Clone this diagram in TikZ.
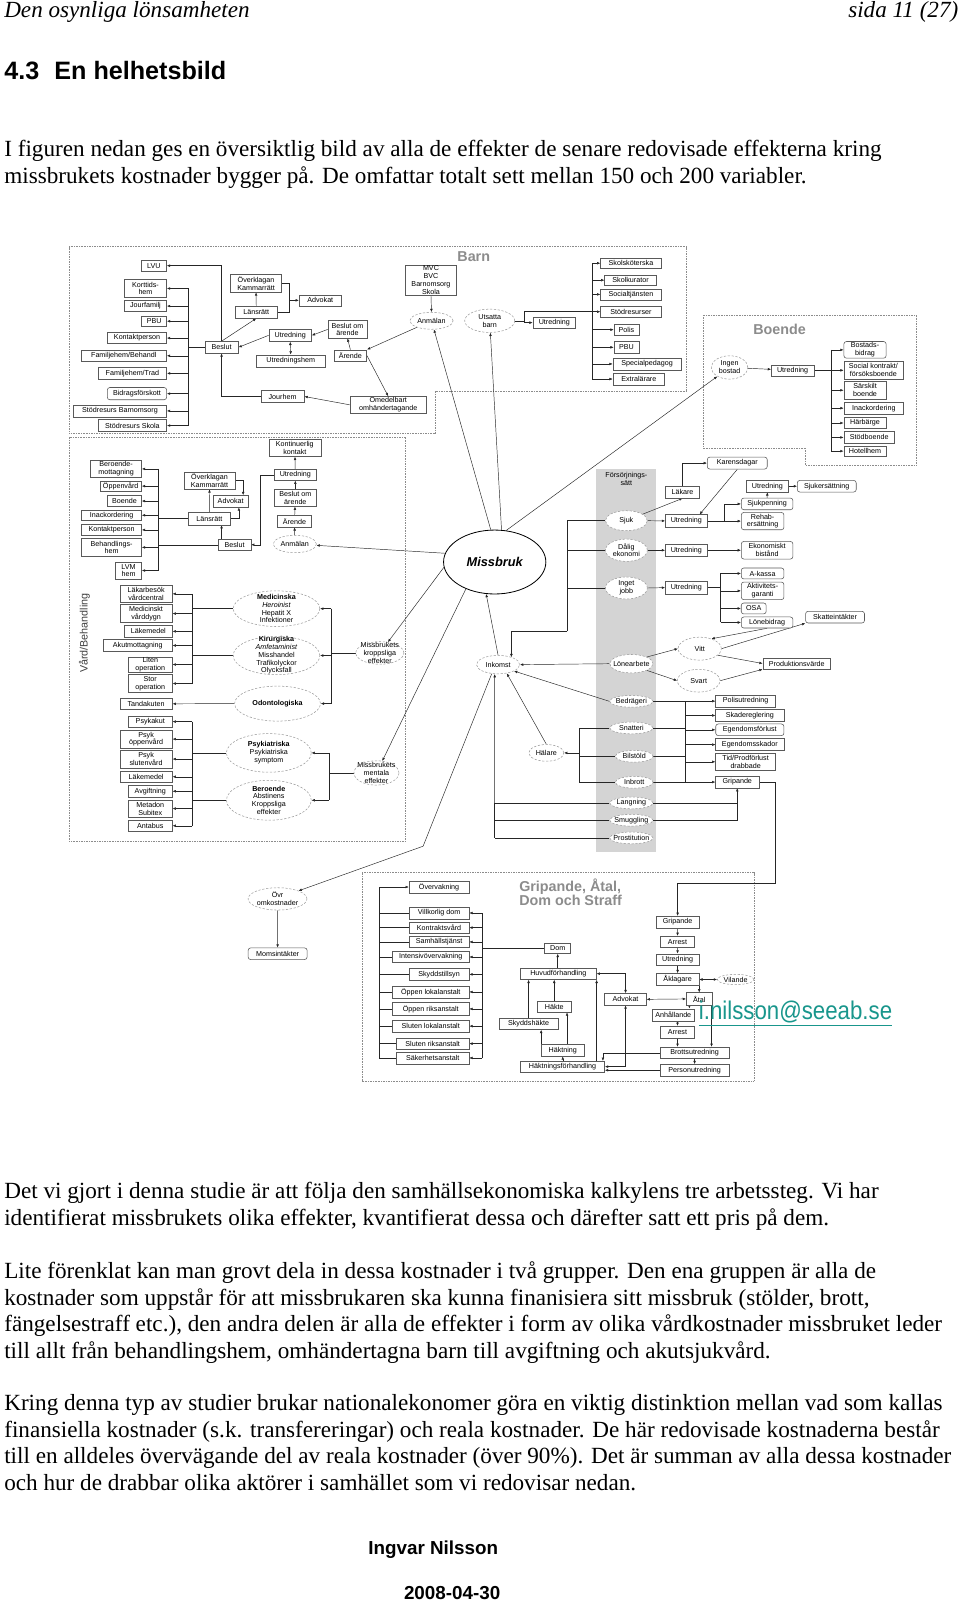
\documentclass[tikz,border=0pt]{standalone}
\usepackage{fontspec}
\setmainfont{Liberation Serif}
\newfontfamily\arialf{Liberation Sans}
\newfontfamily\narrowf[FakeStretch=0.87]{Liberation Sans}
\usetikzlibrary{arrows.meta,shapes.geometric}
\pgfdeclarelayer{bg}
\pgfsetlayers{bg,main}
\definecolor{emailc}{RGB}{25,150,140}
\newcommand\dg{\arialf\fontsize{7}{7.6}\selectfont}
\tikzset{
  bx/.style={draw=black!65, line width=0.55pt, fill=white, inner sep=0.5pt, align=center, font=\dg},
  rbx/.style={bx, rounded corners=2.5pt},
  el/.style={ellipse, draw=black!40, line width=0.5pt, dash pattern=on 2.2pt off 1.6pt, fill=white, inner sep=0pt},
  txt/.style={font=\dg, align=center, inner sep=0pt},
  ln/.style={draw=black!85, line width=0.45pt},
  ar/.style={ln, -{Latex[length=3.2pt,width=2.6pt]}},
  dar/.style={ln, {Latex[length=3.2pt,width=2.6pt]}-{Latex[length=3.2pt,width=2.6pt]}},
  region/.style={draw=black!45, line width=0.5pt, dash pattern=on 0.8pt off 0.8pt},
  body/.style={anchor=base west, inner sep=0pt, font=\fontsize{22.65}{26}\selectfont},
  lbl/.style={font=\arialf\bfseries\fontsize{14}{13}\selectfont, text=black!45, inner sep=0pt},
}
\newcommand\B[7][bx]{\node[#1,minimum width=#5pt,minimum height=#6pt] (#2) at (#3,#4) {#7};}
\newcommand\E[6]{\node[el,minimum width=#4pt,minimum height=#5pt] (#1) at (#2,#3) {};\node[txt] (#1t) at (#1.center) {#6};}
\begin{document}
\begin{tikzpicture}[x=1pt,y=-1pt]
\useasboundingbox (0,0) rectangle (938,1568);

% ---------- page text ----------
\node[anchor=base west, inner sep=0pt, font=\fontsize{22.6}{26}\selectfont\itshape] (hd1) at (4,17) {Den osynliga lönsamheten};
\node[anchor=base east, inner sep=0pt, font=\fontsize{22.6}{26}\selectfont\itshape] (hd2) at (937,17) {sida 11 (27)};
\node[anchor=base west, inner sep=0pt, font=\arialf\bfseries\fontsize{24.6}{28}\selectfont] (sec) at (4,78) {4.3\hspace{0.6em}En helhetsbild};
\node[body] (p1) at (4,153) {I figuren nedan ges en översiktlig bild av alla de effekter de senare redovisade effekterna kring};
\node[body] (p2) at (4,179) {missbrukets kostnader bygger på. De omfattar totalt sett mellan 150 och 200 variabler.};
\node[body] (q1) at (4,1172) {Det vi gjort i denna studie är att följa den samhällsekonomiska kalkylens tre arbetssteg. Vi har};
\node[body] (q2) at (4,1198) {identifierat missbrukets olika effekter, kvantifierat dessa och därefter satt ett pris på dem.};
\node[body] (q3) at (4,1250) {Lite förenklat kan man grovt dela in dessa kostnader i två grupper. Den ena gruppen är alla de};
\node[body] (q4) at (4,1276) {kostnader som uppstår för att missbrukaren ska kunna finanisiera sitt missbruk (stölder, brott,};
\node[body] (q5) at (4,1302) {fängelsestraff etc.), den andra delen är alla de effekter i form av olika vårdkostnader missbruket leder};
\node[body] (q6) at (4,1328) {till allt från behandlingshem, omhändertagna barn till avgiftning och akutsjukvård.};
\node[body] (q7) at (4,1379) {Kring denna typ av studier brukar nationalekonomer göra en viktig distinktion mellan vad som kallas};
\node[body] (q8) at (4,1405) {finansiella kostnader (s.k. transfereringar) och reala kostnader. De här redovisade kostnaderna består};
\node[body] (q9) at (4,1431) {till en alldeles övervägande del av reala kostnader (över 90\%). Det är summan av alla dessa kostnader};
\node[body] (q10) at (4,1457) {och hur de drabbar olika aktörer i samhället som vi redovisar nedan.};
\node[anchor=base, inner sep=0pt, font=\arialf\bfseries\fontsize{18.4}{22}\selectfont] (ft1) at (423.5,1520) {Ingvar Nilsson};
\node[anchor=base, inner sep=0pt, font=\arialf\bfseries\fontsize{18.4}{22}\selectfont] (ft2) at (442,1564) {2008-04-30};

% ---------- labels ----------
\node[lbl] (barnlbl) at (463.1,250.8) {Barn};
\node[lbl] (boendelbl) at (762.1,322.4) {Boende};
\node[lbl, align=left, anchor=north west] (griplbl) at (507.4,859) {Gripande, Åtal,\\Dom och Straff};
\node[rotate=90, inner sep=0pt, font=\arialf\fontsize{10.5}{12}\selectfont, text=black!75] (vardlbl) at (82.5,619) {Vård/Behandling};

% ---------- Barn ----------
\B{lvu}{150.3}{259.7}{25}{11.4}{LVU}
\B{kort}{142.2}{282}{41.4}{17}{Korttids-\\hem}
\B{jour}{142.2}{299.2}{41.4}{10.7}{Jourfamilj}
\B{pbu1}{150.7}{314}{24.5}{10.5}{PBU}
\B{kontakt1}{134}{330.5}{57.7}{11}{Kontaktperson}
\B{famb}{121}{347.8}{83.8}{11.7}{Familjehem/Behandl}
\B{famt}{129.5}{365}{66.9}{11.4}{Familjehem/Trad}
\B[rbx]{bidrag}{133.9}{384.8}{58}{12}{Bidragsförskott}
\B{stodb}{117.3}{401.7}{91.2}{12}{Stödresurs Barnomsorg}
\B{stods}{129.5}{416}{66.9}{11.4}{Stödresurs Skola}
\B{beslut1}{216.6}{339.5}{32.6}{11.4}{Beslut}
\B{lans1}{250.5}{305.3}{41.7}{11.4}{Länsrätt}
\B{overk1}{250.3}{276.8}{49.8}{17.6}{Överklagan\\Kammarrätt}
\B{adv1}{313.1}{293.6}{41.3}{10.8}{Advokat}
\B{utr1}{283.7}{327.8}{41.7}{12}{Utredning}
\B{utrh}{284.2}{352.9}{66.7}{12.1}{Utredningshem}
\B{beslutom1}{339.7}{322}{38}{17}{Beslut om\\ärende}
\B{arende1}{342.5}{347.7}{32}{11.4}{Ärende}
\B{jourhem}{276.2}{387.6}{42.3}{11.7}{Jourhem}
\B{omed}{379.5}{395.7}{75}{16.2}{Omedelbart\\omhändertagande}
\B{mvc}{421.3}{273.9}{49.8}{28.6}{MVC\\BVC\\Barnomsorg\\Skola}
\E{anm1}{421.8}{313.6}{42.3}{16.6}{Anmälan}
\E{utsatta}{478.7}{313.6}{48.9}{22.8}{Utsatta\\barn}
\B{utr2}{541.9}{315.4}{41.8}{10.8}{Utredning}
\B{skolsk}{616.8}{257.3}{59.3}{9.8}{Skolsköterska}
\B{skolkur}{616.4}{273.9}{50.5}{10.4}{Skolkurator}
\B{soc}{616.8}{287.8}{59.3}{10.7}{Socialtjänsten}
\B{stodr}{616.8}{304.7}{59.3}{11.4}{Stödresurser}
\B{polis}{612.4}{322.3}{24.4}{11.4}{Polis}
\B{pbu2}{612.4}{339.5}{24.4}{11.4}{PBU}
\B{spec}{632.6}{355.8}{66.8}{11.4}{Specialpedagog}
\B{extra}{624.5}{370.5}{50.5}{11.5}{Extralärare}

% ---------- Boende ----------
\E{ingen}{713.2}{359.2}{35.8}{22.8}{Ingen\\bostad}
\B{utr3}{774.8}{362}{41.6}{10.8}{Utredning}
\B[rbx]{bostb}{845.6}{342}{41.3}{16.3}{Bostads-\\bidrag}
\B{socialk}{853.8}{362}{57.6}{17.2}{Social kontrakt/\\försöksboende}
\B{sarsk}{845.6}{381.5}{41.3}{17.2}{Särskilt\\boende}
\B{inack1}{854.2}{399}{58.3}{11.1}{Inackordering}
\B{harb}{845.6}{413.5}{41.3}{10.7}{Härbärge}
\B{stodbo}{849.7}{427.6}{49.5}{11.2}{Stödboende}
\B{hotell}{845.6}{441}{41.3}{10.4}{Hotellhem}

% ---------- Vård top ----------
\B{kontin}{288.2}{437.7}{50.8}{17}{Kontinuerlig\\kontakt}
\B{berm}{113.5}{458.4}{49.8}{16.6}{Beroende-\\mottagning}
\B{oppen}{118}{475.2}{40.7}{10.4}{Öppenvård}
\B{boende2}{121.6}{489.8}{33.5}{10.4}{Boende}
\B{inack2}{109.1}{503.7}{58.6}{10.7}{Inackordering}
\B{kontakt2}{109.1}{518}{58.6}{11.4}{Kontaktperson}
\B{behhem}{109.1}{535.1}{58.6}{17.6}{Behandlings-\\hem}
\B{lvm}{125.7}{557.7}{25.4}{16.6}{LVM\\hem}
\B{overk2}{204.8}{469.8}{49.5}{16.6}{Överklagan\\Kammarrätt}
\B{adv2}{225.5}{490}{34.2}{11.4}{Advokat}
\B{lans2}{204.7}{507}{41.4}{12.1}{Länsrätt}
\B{beslut2}{229.3}{532.5}{31.9}{11}{Beslut}
\B{utr4}{288.7}{464.1}{41.4}{11}{Utredning}
\B{beslutom2}{288.7}{486.5}{41.4}{16.9}{Beslut om\\ärende}
\B{arende2}{287.9}{509.5}{33.2}{11.4}{Ärende}
\E{anm2}{288.2}{531.8}{42.3}{17}{Anmälan}

% ---------- Vård medical ----------
\B{lakb}{142.8}{580.5}{51.2}{16.6}{Läkarbesök\\vårdcentral}
\B{medv}{142.8}{599.8}{51.2}{17.3}{Medicinskt\\vårddygn}
\B{lakm1}{145}{617.2}{46.9}{11.1}{Läkemedel}
\B{akut}{134.7}{631}{67.4}{11.4}{Akutmottagning}
\B{liten}{146.9}{649.6}{43}{14.7}{Liten\\operation}
\B{stor}{146.9}{668.2}{43}{17.3}{Stor\\operation}
\B{tand}{142.8}{688}{51.2}{11.4}{Tandakuten}
\B{psykakut}{146.9}{705.4}{43}{10.4}{Psykakut}
\B{psyko}{142.8}{722.5}{51.2}{17.3}{Psyk\\öppenvård}
\B{psyks}{142.8}{742}{51.2}{17.3}{Psyk\\slutenvård}
\B{lakm2}{142.8}{759.3}{51.2}{10.7}{Läkemedel}
\B{avg}{146.9}{773.5}{43}{11}{Avgiftning}
\B{metad}{146.9}{790.4}{43}{16.3}{Metadon\\Subitex}
\B{antab}{146.9}{807.2}{43}{10.8}{Antabus}
\E{medic}{270.3}{595}{84.7}{34.9}{\textbf{Medicinska}\\\textit{Heroinist}\\Hepatit X\\Infektioner}
\E{kirur}{270.3}{640.8}{84.7}{37.5}{\textbf{Kirurgiska}\\\textit{Amfetaminist}\\Misshandel\\Trafikolyckor\\Olycksfall}
\E{odont}{271.3}{687.8}{84}{34.2}{\textbf{Odontologiska}}
\E{psykia}{262.8}{736}{83}{37.8}{\textbf{Psykiatriska}\\Psykiatriska\\symptom}
\E{beroende}{262.8}{782.3}{83}{39}{\textbf{Beroende}\\Abstinens\\Kroppsliga\\effekter}
\E{kropp}{371.3}{638.3}{47}{22}{Missbrukets\\kroppsliga\\effekter}
\E{mental}{368}{755.6}{44}{23.8}{Missbrukets\\mentala\\effekter}

% ---------- Missbruk ----------
\node[ellipse, draw=black, line width=0.8pt, fill=white, minimum width=100pt, minimum height=62.5pt, inner sep=0pt] (missbruk) at (483.6,549.4) {};
\node[inner sep=0pt, font=\arialf\bfseries\itshape\fontsize{12.5}{14}\selectfont] (missbrukt) at (missbruk.center) {Missbruk};

% ---------- Försörjning ----------
\node[txt] (fors) at (612.3,468.3) {Försörjnings-\\sätt};
\E{sjuk}{612.3}{509}{41}{19.5}{Sjuk}
\E{dalig}{612.3}{537.9}{41}{21.8}{Dålig\\ekonomi}
\E{inget}{612.3}{574.8}{41}{21.5}{Inget\\jobb}
\E{lonea}{617.2}{648.8}{42.3}{18}{Lönearbete}
\E{bedr}{617.2}{685.6}{42.3}{11.5}{Bedrägeri}
\E{snatt}{617.2}{711.6}{42.3}{11.5}{Snatteri}
\E{bilst}{620}{739.3}{37}{11.5}{Bilstöld}
\E{inbr}{620}{764.7}{37}{11.5}{Inbrott}
\E{lang}{617.2}{784.9}{42.3}{11.5}{Langning}
\E{smug}{617.2}{801.8}{42.3}{11.5}{Smuggling}
\E{prost}{617.2}{819.1}{42.3}{11.5}{Prostitution}
\E{inkomst}{486.9}{649.7}{42.3}{18}{Inkomst}
\E{halare}{534.1}{736}{34.2}{16.3}{Hälare}
\E{vitt}{684}{634.1}{42.3}{22.5}{Vitt}
\E{svart}{683}{665.4}{41.7}{22.2}{Svart}
\B{lakare}{667.2}{481.2}{33.5}{11.4}{Läkare}
\B[rbx]{karens}{720.7}{452.7}{58.6}{11.7}{Karensdagar}
\B{utr5}{670.9}{509.2}{41}{12}{Utredning}
\B[rbx]{sjukp}{749.9}{492.6}{50.5}{11.4}{Sjukpenning}
\B[rbx]{rehab}{745.5}{509.4}{41.7}{16.9}{Rehab-\\ersättning}
\B{utr6}{750.2}{475.3}{41.4}{11.4}{Utredning}
\B[rbx]{sjukers}{808.2}{475.3}{57.6}{11.4}{Sjukersättning}
\B{utr7}{670.9}{537.9}{41}{12.1}{Utredning}
\B[rbx]{ekon}{749.9}{537.9}{50.5}{17.2}{Ekonomiskt\\bistånd}
\B{utr8}{670.9}{574.4}{41}{12.1}{Utredning}
\B[rbx]{akassa}{745.5}{560.6}{41.7}{10.7}{A-kassa}
\B[rbx]{aktiv}{745.5}{577.6}{41.7}{17.2}{Aktivitets-\\garanti}
\B[rbx]{osa}{736.8}{594.8}{24.4}{10.7}{OSA}
\B[rbx]{lonebid}{749.9}{608.5}{50.5}{10.8}{Lönebidrag}
\B[rbx]{skatt}{816.3}{603.3}{57.6}{11.4}{Skatteintäkter}
\B{prod}{778.9}{648.6}{66.2}{10.8}{Produktionsvärde}
\B{polisutr}{728.9}{685.4}{58.6}{11.4}{Polisutredning}
\B{skadereg}{733}{699.4}{66.7}{11.4}{Skadereglering}
\B[rbx]{egenf}{733}{713.4}{66.7}{11.4}{Egendomsförlust}
\B{egens}{733}{727.9}{66.7}{11.8}{Egendomsskador}
\B{tid}{728.9}{744.7}{58.6}{17.3}{Tid/Prodförlust\\drabbade}
\B{grip1}{720.7}{764.5}{42.3}{11.4}{Gripande}

% ---------- Gripande, Åtal, Dom och Straff ----------
\E{ovr}{271.3}{878.7}{57.6}{21.8}{Övr\\omkostnader}
\B[rbx]{moms}{271.4}{932.3}{57.7}{11.4}{Momsintäkter}
\B{overv}{429.2}{867.1}{58.6}{11.4}{Övervakning}
\B{villk}{429.2}{892.5}{58.6}{11.4}{Villkorlig dom}
\B{kontr}{429.2}{906.8}{58.6}{11.4}{Kontraktsvård}
\B{samh}{429.2}{920.8}{58.6}{11.3}{Samhällstjänst}
\B{intens}{421.1}{935.5}{74.8}{11.3}{Intensivövervakning}
\B{skydd}{429.2}{952.5}{58.6}{11.4}{Skyddstillsyn}
\B{opl}{421.1}{969.7}{74.8}{11.4}{Öppen lokalanstalt}
\B{opr}{421.1}{986.3}{74.8}{12.1}{Öppen riksanstalt}
\B{sll}{421.1}{1003.1}{74.8}{11.8}{Sluten lokalanstalt}
\B{slr}{423}{1020.2}{70.9}{11.4}{Sluten riksanstalt}
\B{sak}{423}{1034.2}{70.9}{11.4}{Säkerhetsanstalt}
\B{dom}{545.2}{926.9}{25.4}{10.4}{Dom}
\B{huvud}{545.8}{951.8}{74.3}{11.4}{Huvudförhandling}
\B{hakte}{541.8}{984}{33.6}{10.7}{Häkte}
\B{skyddh}{516.7}{1000.7}{57.7}{11.4}{Skyddshäkte}
\B{haktn}{550.1}{1026.7}{41.6}{11.4}{Häktning}
\B{haktf}{549.9}{1042.7}{82.4}{10.7}{Häktningsförhandling}
\B{adv3}{611.5}{976.9}{40.7}{11.4}{Advokat}
\B{grip2}{662.4}{901.3}{41.7}{11.4}{Gripande}
\B{arrest1}{662.3}{920.8}{33.5}{11.3}{Arrest}
\B{utr9}{662.4}{938.1}{41.7}{11.4}{Utredning}
\B{akl}{662.4}{957.5}{41.7}{11.8}{Åklagare}
\E{vilande}{719.1}{957.5}{35.8}{10}{Vilande}
\B{atal}{683.6}{976.5}{25.4}{12.1}{Åtal}
\B{anh}{658.2}{992.2}{41.7}{12.1}{Anhållande}
\B{arrest2}{662.3}{1008.8}{33.5}{11.4}{Arrest}
\B{brott}{679}{1029.3}{67.1}{11.4}{Brottsutredning}
\B{person}{679}{1046.2}{67.1}{11.4}{Personutredning}

\node[anchor=base west, inner sep=0pt, text=emailc, font=\narrowf\fontsize{25}{28}\selectfont] (email) at (683,997) {\underline{i.nilsson@seeab.se}};

% ================= connectors (background) =================
\begin{pgfonlayer}{bg}
\fill[white] (0,0) rectangle (938,1568);
\draw[region] (67.5,241) -- (671,241) -- (671,382) -- (425,382) -- (425,424) -- (67.5,424) -- cycle;
\draw[region] (687,308) -- (895.6,308) -- (895.6,455) -- (787.5,455) -- (787.5,438) -- (687,438) -- cycle;
\draw[region] (67.5,427) rectangle (396.4,822);
\draw[region] (353.9,853) rectangle (736.9,1056.8);
\fill[black!17] (583,458) rectangle (641.6,833);

% Barn
\coordinate (tb) at (184,0);
\draw[ln] (kort.east -| tb) -- (stods.east -| tb);
\foreach \n in {kort,jour,pbu1,kontakt1,famb,famt,bidrag,stodb,stods} \draw[ar] (\n.east -| tb) -- (\n.east);
\draw[ln, line width=0.8pt] (beslut1.west) -- (beslut1.west -| tb);
\draw[ar] (beslut1.north) |- (lvu.east);
\draw[ar] (beslut1.north) -- (lans1.south);
\draw[ar] (lans1.north) -- (overk1.south);
\coordinate (kb) at (282.7,0);
\draw[ln] (overk1.east) -| (lans1.east -| kb) -- (lans1.east);
\draw[ar] (adv1.west -| kb) -- (adv1.west);
\draw[ar] (utr1.west) -- (beslut1.east);
\draw[dar] (utr1.south) -- (utrh.north);
\draw[ar] (beslutom1.west) -- (utr1.east);
\draw[ar] (arende1.north) -- (beslutom1.south);
\draw[ar] (anm1) -- (arende1.north east);
\draw[ar] (arende1.east) -- (omed.north);
\draw[ar] (omed.west) -- (jourhem.east);
\draw[ar] (jourhem.west) -| (beslut1.south);
\draw[ar] (mvc.south) -- (anm1.north);
\coordinate (ub) at (512.3,0);
\coordinate (tr) at (579,0);
\draw[ln] (utsatta.east) -- (utsatta.east -| ub);
\draw[ln] (ub |- stodr.west) -- (ub |- utr2.west);
\draw[ar] (ub |- utr2.west) -- (utr2.west);
\draw[ln] (ub |- stodr.west) -- (stodr.west -| tr);
\draw[ln] (skolsk.west -| tr) -- (extra.west -| tr);
\foreach \n in {skolsk,skolkur,soc,stodr,polis,pbu2,spec,extra} \draw[ar] (\n.west -| tr) -- (\n.west);

% Boende
\draw[ar] (ingen) -- (utr3);
\coordinate (tbo) at (812.6,0);
\draw[ln] (utr3.east) -- (utr3.east -| tbo);
\draw[ln] (bostb.west -| tbo) -- (hotell.west -| tbo);
\foreach \n in {bostb,socialk,sarsk,inack1,harb,stodbo,hotell} \draw[ar] (\n.west -| tbo) -- (\n.west);

% Vård top
\coordinate (tv) at (154.7,0);
\draw[ln] (berm.east -| tv) -- (lvm.east -| tv);
\foreach \n in {berm,oppen,boende2,inack2,kontakt2,behhem,lvm} \draw[ar] (\n.east -| tv) -- (\n.east);
\draw[ln] (lans2.west) -- (lans2.west -| tv);
\draw[ln] (beslut2.west) -- (beslut2.west -| tv);
\coordinate (bx1) at (216.6,0);
\draw[ar] (beslut2.north -| bx1) -- (lans2.south -| bx1);
\draw[ar] (lans2.north) -- (overk2.south);
\coordinate (ax1) at (237.7,0);
\coordinate (ax2) at (233.5,0);
\draw[ar] (overk2.east) -| (adv2.north -| ax1);
\draw[ar] (lans2.east) -| (adv2.south -| ax2);
\coordinate (ux) at (254,0);
\draw[ar] (utr4.west) -- (utr4.west -| ux) -- (beslut2.east -| ux) -- (beslut2.east);
\draw[ar] (anm2) -- (arende2);
\draw[ar] (arende2) -- (beslutom2);
\draw[ar] (beslutom2) -- (utr4);
\draw[ar] (utr4) -- (kontin);

% Vård medical
\coordinate (tm) at (187.9,0);
\draw[ln] (lakb.east -| tm) -- (stor.east -| tm);
\foreach \n in {lakb,medv,lakm1,akut,liten,stor} \draw[ar] (\n.east -| tm) -- (\n.east);
\draw[ln] (medic.west) -- (medic.west -| tm);
\draw[ln] (kirur.west) -- (kirur.west -| tm);
\draw[ar] (odont.west) -- (tand.east);
\draw[ln] (psykakut.east -| tm) -- (antab.east -| tm);
\foreach \n in {psykakut,psyko,psyks,lakm2,avg,metad,antab} \draw[ar] (\n.east -| tm) -- (\n.east);
\draw[ln] (psykia.west) -- (psykia.west -| tm);
\draw[ln] (beroende.west) -- (beroende.west -| tm);
\coordinate (rk) at (324,0);
\draw[ln] (medic.east -| rk) -- (odont.east -| rk);
\foreach \n in {medic,kirur,odont} \draw[ar] (\n.east -| rk) -- (\n.east);
\draw[ln] (kropp.west) -- (kropp.west -| rk);
\coordinate (rm) at (321.4,0);
\draw[ln] (psykia.east -| rm) -- (beroende.east -| rm);
\foreach \n in {psykia,beroende} \draw[ar] (\n.east -| rm) -- (\n.east);
\draw[ln] (mental.west) -- (mental.west -| rm);

% Missbruk
\draw[ar] (missbruk.97) -- (anm1);
\draw[ar] (missbruk.78) -- (utsatta);
\draw[ar] (missbruk.70) -- (ingen);
\draw[ar] (missbruk.170) -- (anm2);
\draw[ar] (missbruk.186) -- (kropp);
\draw[ar] (missbruk.223) -- (mental);
\draw[ar] (inkomst.north) -- (missbruk.255);
\coordinate (ib) at (413.6,827.2);
\draw[ar] (inkomst.235) -- (ib) -- (ovr.north east);

% Försörjning
\coordinate (fx) at (554.6,0);
\coordinate (fy) at (0,617.2);
\coordinate (fi) at (499.9,0);
\draw[ln] (sjuk.west) -- (sjuk.west -| fx) -- (fx |- fy);
\draw[ln] (dalig.west) -- (dalig.west -| fx);
\draw[ln] (inget.west) -- (inget.west -| fx);
\draw[ar] (fx |- fy) -| ([xshift=13pt,yshift=-2pt]inkomst.north);
\draw[ar] (lonea.west) -- (inkomst.east);
\draw[ar] (bedr.west) -- (inkomst.-22);
\coordinate (hx) at (566.7,0);
\draw[ln] (snatt.west) -- (snatt.west -| hx) -- (inbr.west -| hx) -- (inbr.west);
\draw[ln] (bilst.west) -- (bilst.west -| hx);
\draw[ar] (halare.east -| hx) -- (halare.east);
\draw[ar] (halare.north) -- (inkomst.-45);
\coordinate (lx) at (483.6,0);
\foreach \n in {lang,smug,prost} \draw[ln] (\n.west) -- (\n.west -| lx);
\draw[ln] (lx |- lang.west) -- (lx |- prost.west);
\draw[ar] (lx |- lang.west) -- ([xshift=-3.3pt]inkomst.south);
\draw[ar] (sjuk) -- (lakare.south);
\draw[ar] (lakare.north) |- (karens.west);
\draw[ar] (sjuk.east) -- (utr5.west);
\draw[ar] (karens.south) -- ([xshift=13pt]utr5.north);
\coordinate (sx) at (707.7,0);
\draw[ln] (utr5.east) -- (utr5.east -| sx);
\draw[ar] (utr5.east -| sx) |- (sjukp.west);
\draw[ar] (sx |- rehab.west) -- (rehab.west);
\draw[ar] (sjukp.north) -- (utr6.south);
\draw[ar] (utr6.east) -- (sjukers.west);
\draw[ar] (dalig.east) -- (utr7.west);
\draw[ar] (utr7.east) -- (ekon.west);
\draw[ar] (inget.east) -- (utr8.west);
\coordinate (ix) at (704.4,0);
\draw[ln] (utr8.east) -- (utr8.east -| ix);
\draw[ln] (akassa.west -| ix) -- (lonebid.west -| ix);
\foreach \n in {akassa,aktiv,osa,lonebid} \draw[ar] (\n.west -| ix) -- (\n.west);
\draw[ar] (lonebid.south) -- (vitt.40);
\draw[ar] (vitt.east) -- (skatt.south west);
\draw[ar] (vitt.-20) -- (prod.west);
\draw[ar] (lonea.north east) -- (vitt.west);
\draw[ar] (lonea.south east) -- (svart.west);
\draw[ar] (svart.east) -- (prod.south west);
\coordinate (cx) at (670.3,0);
\foreach \n in {bedr,snatt,bilst,inbr} \draw[ln] (\n.east) -- (\n.east -| cx);
\draw[ln] (cx |- bedr.east) -- (cx |- inbr.east);
\foreach \n in {polisutr,skadereg,egenf,egens,tid,grip1} \draw[ar] (\n.west -| cx) -- (\n.west);
\draw[ar] (lang.east) -| (grip1.south);
\draw[ln] (smug.east) -| (grip1.south |- lang.east);
\coordinate (gx) at (758.2,0);
\coordinate (gy) at (0,863.7);
\draw[ar] (grip1.east) -| (gx |- gy) -| (grip2.north);

% Gripande section
\coordinate (lt) at (370.6,0);
\coordinate (rt) at (471.6,0);
\foreach \n in {villk,kontr,samh,intens,skydd,opl,opr,sll,slr,sak} \draw[ln] (\n.west) -- (\n.west -| lt);
\draw[ln] (lt |- overv.west) -- (lt |- sak.west);
\draw[ar] (lt |- overv.west) -- (overv.west);
\draw[ln] (rt |- villk.east) -- (rt |- sak.east);
\foreach \n in {villk,kontr,samh,intens,skydd,opl,opr,sll,slr,sak} \draw[ar] (rt |- \n.east) -- (\n.east);
\draw[ln] (dom.west) -- (dom.west -| rt);
\draw[ar] (ovr) -- (moms);
\draw[ar] (huvud.north -| dom) -- (dom.south);
\draw[ar] (hakte.north) -- (hakte.north |- huvud.south);
\draw[ar] (skyddh.north) -- (skyddh.north |- huvud.south);
\draw[ar] (haktn.north west) -- (haktn.north west |- skyddh.south);
\draw[ar] ([xshift=4.2pt]haktn.north) -- ([xshift=4.2pt]haktn.north |- hakte.south);
\draw[ar] (haktf.north -| haktn) -- (haktn.south);
\draw[ar] (huvud.south east |- haktf.north) -- (huvud.south east);
\draw[dar] (huvud.east) -| (adv3.north);
\draw[dar] (adv3.south) |- (haktf.east);
\draw[dar] (adv3.east) -- (atal.west);
\draw[ar] (grip2) -- (arrest1);
\draw[ar] (arrest1) -- (utr9);
\draw[ar] (utr9) -- (akl);
\draw[dar] (akl.east) -- (vilande.west);
\draw[ar] (akl.south east) -- (akl.south east |- atal.north);
\draw[ar] ([xshift=3.3pt]atal.south west) -- ([xshift=3.3pt]atal.south west |- anh.north);
\draw[ar] (arrest2.north |- anh.south) -- (arrest2.north);
\draw[ar] (arrest2.south) -- (arrest2.south |- brott.north);
\draw[ar] ([xshift=-1pt]atal.south east) -- ([xshift=-1pt]atal.south east |- brott.north);
\draw[ar] (brott.south) -- (person.north);
\draw[ar] (brott.west) -| ([xshift=-2pt]haktf.north east);
\draw[ar] (person.west) -- (person.west -| haktf.east);
\end{pgfonlayer}
\end{tikzpicture}
\end{document}
